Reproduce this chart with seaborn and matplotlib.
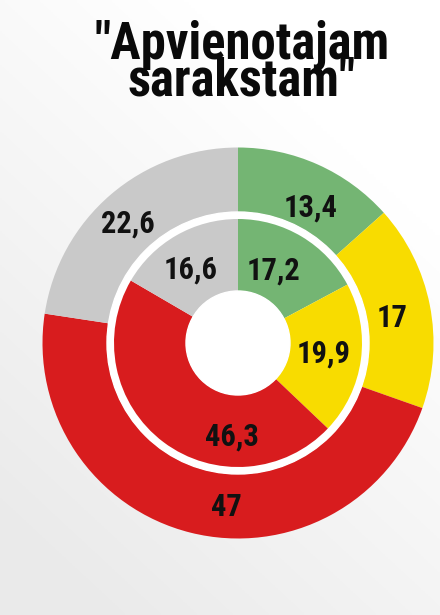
import numpy as np
import matplotlib
matplotlib.use("Agg")
import matplotlib.pyplot as plt
from matplotlib import font_manager
import seaborn as sns

# Shares of the vote, outer ring and inner ring (same party order)
parties = ["A", "B", "C", "D"]
outer_values = [13.4, 17.0, 47.0, 22.6]
inner_values = [17.2, 19.9, 46.3, 16.6]
outer_labels = ["13,4", "17", "47", "22,6"]
inner_labels = ["17,2", "19,9", "46,3", "16,6"]
title_text = '"Apvienotajam\nsarakstam"'

colors = sns.color_palette(["#74b573", "#f8dc00", "#d81c1e", "#c9c9c9"])

sns.set_theme(style="white")


def pick_font(candidates):
    for name in candidates:
        try:
            font_manager.findfont(font_manager.FontProperties(family=name, weight="bold"),
                                  fallback_to_default=False)
            return name
        except Exception:
            continue
    return "DejaVu Sans"


narrow = pick_font(["Liberation Sans Narrow", "DejaVu Sans Condensed", "Roboto Condensed",
                    "Open Sans Condensed", "Roboto"])
plt.rcParams["font.family"] = [narrow, "DejaVu Sans"]

W, H = 440, 615
fig = plt.figure(figsize=(W / 100, H / 100), dpi=100)

# soft grey background, darker toward the lower left
bg = fig.add_axes([0, 0, 1, 1])
yy, xx = np.mgrid[0:1:200j, 0:1:200j]
shade = 1.0 - 0.08 * np.clip((1 - xx) * 0.6 + yy * 0.9 - 0.35, 0, 1)
bg.imshow(np.dstack([shade] * 3), extent=[0, 1, 0, 1], aspect="auto", origin="upper")
bg.set_axis_off()

# donut axes: centre (238, 343) px, outer radius 195.5 px
cx, cy, R = 238, 343, 195.5
ax = fig.add_axes([(cx - R) / W, (H - cy - R) / H, 2 * R / W, 2 * R / H])

r_out, r_out_in = 1.0, 131 / R
r_in, r_hole = 124 / R, 52 / R

ax.pie(outer_values, radius=r_out, colors=colors, startangle=90, counterclock=False,
       wedgeprops=dict(width=r_out - r_out_in, linewidth=0))
ax.add_patch(plt.Circle((0, 0), r_out_in, color="white", zorder=2))
wedges, _ = ax.pie(inner_values, radius=r_in, colors=colors, startangle=90, counterclock=False,
                   wedgeprops=dict(width=r_in - r_hole, linewidth=0))
for w in wedges:
    w.set_zorder(3)
ax.add_patch(plt.Circle((0, 0), r_hole, color="white", zorder=4))

ax.set_xlim(-1, 1)
ax.set_ylim(-1, 1)
ax.set_aspect("equal")
ax.set_axis_off()


def mid_angles(values):
    total = sum(values)
    ang, start = [], 90.0
    for v in values:
        span = 360.0 * v / total
        ang.append(start - span / 2)
        start -= span
    return ang


# label placement: angle shift and radius (in px) for each ring
outer_shift = [-4, -2, 10, 2]
outer_rad = [154, 156, 164, 162]
inner_shift = [5, 1, 33, 3]
inner_rad = [81, 86, 94, 87]

for a, s, rr, lab in zip(mid_angles(outer_values), outer_shift, outer_rad, outer_labels):
    t = np.deg2rad(a + s)
    ax.text(rr / R * np.cos(t), rr / R * np.sin(t), lab, ha="center", va="center",
            fontsize=22, fontweight="bold", color="#111111", zorder=6)
for a, s, rr, lab in zip(mid_angles(inner_values), inner_shift, inner_rad, inner_labels):
    t = np.deg2rad(a + s)
    ax.text(rr / R * np.cos(t), rr / R * np.sin(t), lab, ha="center", va="center",
            fontsize=22, fontweight="bold", color="#111111", zorder=6)

# two-line title, last baseline at y = 95 px
fig.text(242 / W, 1 - 95 / H, title_text, ha="center", va="baseline", fontsize=36.5,
         fontweight="bold", color="#0a0a0a", linespacing=0.64,
         multialignment="center")

fig.savefig("out.png", dpi=100)
